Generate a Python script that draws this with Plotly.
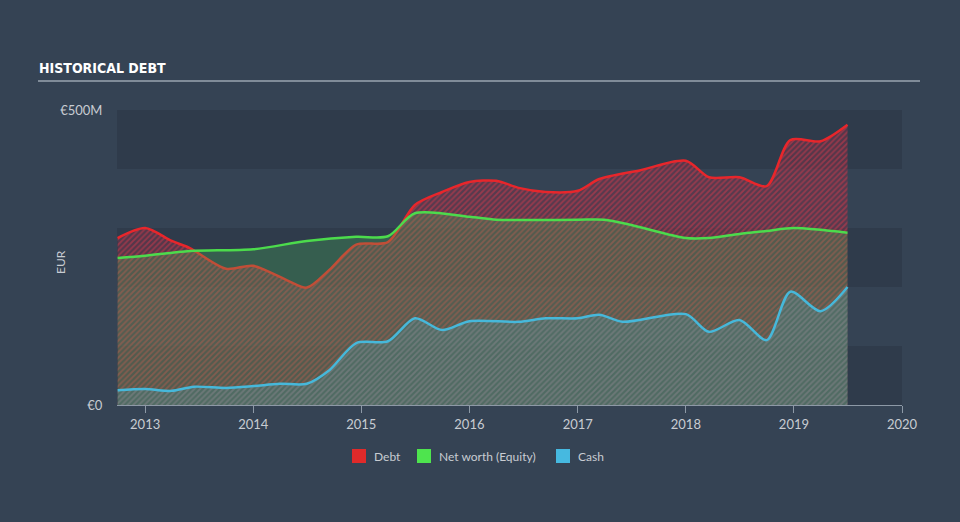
import plotly.graph_objects as go

debt_dates = ["2012-09-30", "2013-01-01", "2013-04-01", "2013-06-01", "2013-10-01", "2014-01-01",
              "2014-05-01", "2014-07-01", "2014-09-15", "2014-12-15", "2015-04-01", "2015-07-01",
              "2015-10-01", "2016-01-01", "2016-04-01", "2016-06-15", "2016-09-15", "2017-01-01",
              "2017-03-15", "2017-08-01", "2018-01-01", "2018-03-20", "2018-07-01", "2018-10-01",
              "2018-12-20", "2019-04-01", "2019-07-01"]
debt_vals = [283, 300, 278, 266, 231, 236, 210, 199, 229, 272, 276, 339,
             361, 378, 380, 368, 361, 363, 383, 398, 414, 386, 386, 371,
             449, 447, 475]

equity_dates = ["2012-09-30", "2013-01-01", "2013-06-01", "2014-01-01", "2014-07-01", "2014-12-15",
                "2015-04-01", "2015-07-01", "2016-01-01", "2016-04-01", "2017-01-01", "2017-04-01",
                "2017-07-01", "2018-01-01", "2018-03-20", "2018-07-01", "2018-10-01", "2019-01-01",
                "2019-07-01"]
equity_vals = [249, 253, 261, 264, 278, 285, 286, 325, 319, 314, 314, 314,
               305, 283, 283, 290, 295, 300, 292]

cash_dates = ["2012-09-30", "2013-01-01", "2013-04-01", "2013-06-15", "2013-10-01", "2014-01-01",
              "2014-04-01", "2014-07-01", "2014-09-15", "2014-12-15", "2015-04-01", "2015-07-01",
              "2015-10-01", "2016-01-01", "2016-06-15", "2016-09-15", "2017-01-01", "2017-03-15",
              "2017-06-01", "2018-01-01", "2018-03-20", "2018-07-01", "2018-10-01", "2018-12-20",
              "2019-04-01", "2019-07-01"]
cash_vals = [25, 27, 24, 31, 29, 32, 36, 36, 59, 105, 108, 147,
             127, 142, 141, 147, 147, 153, 141, 154, 124, 144, 110, 192,
             159, 200]

year_ticks = ["2013-01-01", "2014-01-01", "2015-01-01", "2016-01-01", "2017-01-01",
              "2018-01-01", "2019-01-01", "2020-01-01"]
year_labels = ["2013", "2014", "2015", "2016", "2017", "2018", "2019", "2020"]

legend_names = ["Debt", "Net worth (Equity)", "Cash"]
legend_colors = ["#e02a2a", "#4ee44e", "#46b9e0"]

BG = "#354354"
BAND = "#2f3b4b"
RED = "#e8262b"
GREEN = "#4cdb4c"
BLUE = "#46b8da"
FONT = "Lato"
TXT = "#c8ccd2"

# plot area in pixels (for placing decorations in paper coords)
PL, PR, PT, PB = 117, 902, 110, 405
def px(x):
    return (x - PL) / (PR - PL)
def py(y):
    return (PB - y) / (PB - PT)

fig = go.Figure()

fig.add_trace(go.Scatter(
    x=debt_dates, y=debt_vals, mode="lines", name="Debt", showlegend=False,
    line=dict(color=RED, width=2.5, shape="spline", smoothing=0.8),
    fill="tozeroy", fillcolor="rgba(0,0,0,0)",
    fillpattern=dict(shape="/", fgcolor="#d83a4c", bgcolor="rgba(115,50,72,0.55)",
                     size=4, solidity=0.45, fillmode="overlay"),
))
fig.add_trace(go.Scatter(
    x=equity_dates, y=equity_vals, mode="lines", name="Net worth (Equity)", showlegend=False,
    line=dict(color=GREEN, width=2.5, shape="spline", smoothing=0.8),
    fill="tozeroy", fillcolor="rgba(76,200,90,0.25)",
))
fig.add_trace(go.Scatter(
    x=cash_dates, y=cash_vals, mode="lines", name="Cash", showlegend=False,
    line=dict(color=BLUE, width=2.5, shape="spline", smoothing=0.8),
    fill="tozeroy", fillcolor="rgba(0,0,0,0)",
    fillpattern=dict(shape="/", fgcolor="rgba(70,184,218,0.35)", bgcolor="rgba(70,150,160,0.25)",
                     size=4, solidity=0.45, fillmode="overlay"),
))

shapes = []
for lo, hi in [(0, 100), (200, 300), (400, 500)]:
    shapes.append(dict(type="rect", xref="paper", yref="y", x0=0, x1=1, y0=lo, y1=hi,
                       fillcolor=BAND, line=dict(width=0), layer="below"))
shapes.append(dict(type="line", xref="paper", yref="paper", x0=px(38), x1=px(920),
                   y0=py(81), y1=py(81), line=dict(color="#9aa5b1", width=1.5)))

annotations = [
    dict(text="<b>HISTORICAL DEBT</b>", xref="paper", yref="paper",
         x=px(37), y=py(68), xanchor="left", yanchor="middle", showarrow=False,
         font=dict(family="DejaVu Sans Condensed", size=14, color="#ffffff")),
    dict(text="EUR", xref="paper", yref="paper", x=px(60), y=py(262), textangle=-90,
         xanchor="center", yanchor="middle", showarrow=False,
         font=dict(family=FONT, size=12, color=TXT)),
]

# manual legend
leg_x = [352, 417, 556]
for name, col, lx in zip(legend_names, legend_colors, leg_x):
    shapes.append(dict(type="rect", xref="paper", yref="paper", x0=px(lx), x1=px(lx + 14),
                       y0=py(463), y1=py(449), fillcolor=col, line=dict(width=0)))
    annotations.append(dict(text=name, xref="paper", yref="paper", x=px(lx + 20), y=py(456),
                            xanchor="left", yanchor="middle", showarrow=False,
                            font=dict(family=FONT, size=12, color=TXT)))

fig.update_layout(
    width=960, height=522,
    paper_bgcolor=BG, plot_bgcolor=BG,
    margin=dict(l=PL, r=960 - PR, t=PT, b=522 - PB),
    shapes=shapes, annotations=annotations,
    font=dict(family=FONT, color=TXT, size=12),
    showlegend=False,
    xaxis=dict(type="date", range=["2012-09-28", "2020-01-01"], tickvals=year_ticks,
               ticktext=year_labels, showgrid=False, zeroline=False, showline=True,
               linecolor="#8d99a6", linewidth=1, ticks="outside", ticklen=7,
               tickcolor="#8d99a6", tickfont=dict(size=13, color=TXT)),
    yaxis=dict(range=[0, 500], tickvals=[0, 500], ticktext=["€0", "€500M"], showgrid=False,
               zeroline=False, showline=False, ticks="outside", ticklen=11,
               tickcolor="rgba(0,0,0,0)", tickfont=dict(size=13, color=TXT)),
)

fig.write_html("out.html")
